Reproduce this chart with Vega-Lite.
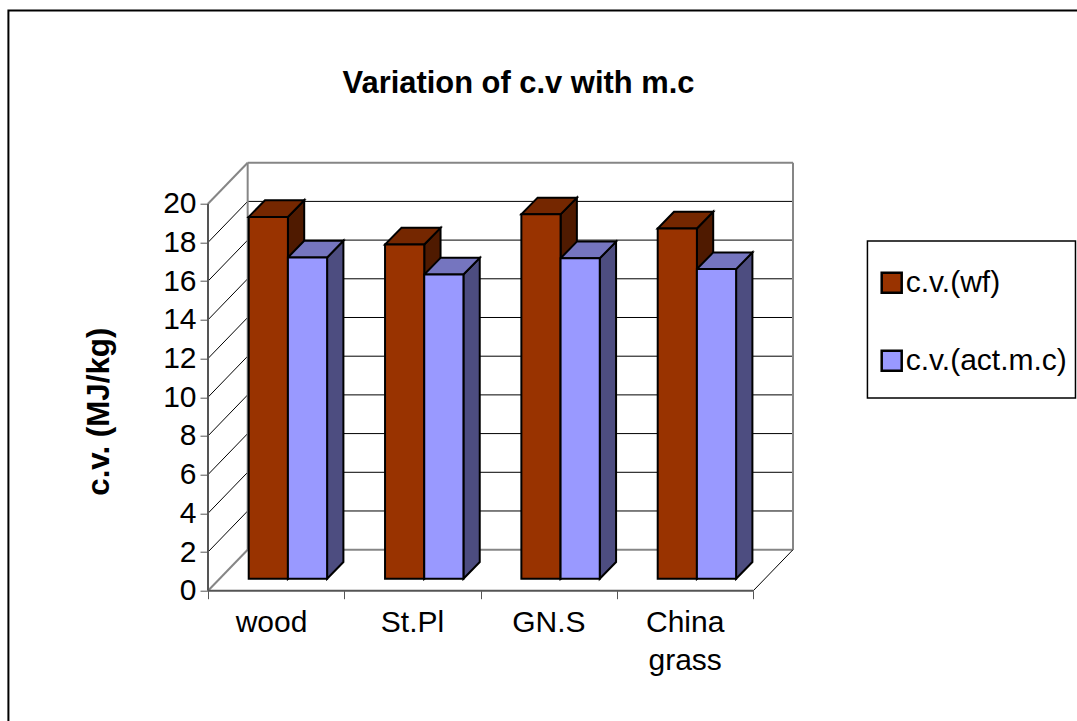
{
"$schema":"https://vega.github.io/schema/vega-lite/v6.json",
"width":585,"height":428,
"autosize":"none",
"padding":{"left":208,"top":162.7,"right":284,"bottom":130.3},
"background":"white",
"title":{"text":"Variation of c.v with m.c","font":"Liberation Sans","fontSize":30.9,"fontWeight":"bold","color":"black","anchor":"middle","frame":"group","dx":18,"offset":-90},
"config":{"view":{"stroke":null},"font":"Liberation Sans"},
"data":{"values":[{"note":"frame"}]},
"datasets":{
"bars":[
{"cat":"wood","series":"c.v.(wf)","value":18.7},
{"cat":"wood","series":"c.v.(act.m.c)","value":16.6},
{"cat":"St.Pl","series":"c.v.(wf)","value":17.27},
{"cat":"St.Pl","series":"c.v.(act.m.c)","value":15.72},
{"cat":"GN.S","series":"c.v.(wf)","value":18.83},
{"cat":"GN.S","series":"c.v.(act.m.c)","value":16.56},
{"cat":"China grass","series":"c.v.(wf)","value":18.1},
{"cat":"China grass","series":"c.v.(act.m.c)","value":16.0}],
"grid":[{"v":0},{"v":2},{"v":4},{"v":6},{"v":8},{"v":10},{"v":12},{"v":14},{"v":16},{"v":18},{"v":20}],
"cats":[{"cat":"wood"},{"cat":"St.Pl"},{"cat":"GN.S"},{"cat":"China grass"}]
},
"layer":[
{"mark":{"type":"rect","fillOpacity":0,"stroke":"black","strokeWidth":2,"clip":false},
 "encoding":{
  "x":{"datum":-1.464,"type":"quantitative","scale":{"domain":[0,4.291],"nice":false,"zero":false},"axis":{"values":[0,1,2,3,4],"labels":false,"title":null,"grid":false,"domain":false,"tickSize":8,"tickColor":"#555555","tickWidth":1}},
  "x2":{"datum":6.6},
  "y":{"datum":29.98,"type":"quantitative","scale":{"domain":[0,22.12],"nice":false,"zero":false},"axis":{"values":[0,2,4,6,8,10,12,14,16,18,20],"grid":false,"domain":false,"tickSize":8,"tickColor":"#555555","tickWidth":1,"labelFontSize":30,"labelFont":"Liberation Sans","labelColor":"black","labelPadding":4,"title":"c.v. (MJ/kg)","titleFontSize":31.3,"titleFont":"Liberation Sans","titleFontWeight":"bold","titleColor":"black","titleX":-93,"titleY":248.5,"titleAngle":-90}},
  "y2":{"datum":-7.5}}},
{"mark":{"type":"rect","fill":"white","stroke":"black","strokeWidth":1.5,"clip":false},
 "encoding":{
  "x":{"datum":4.837,"type":"quantitative"},"x2":{"datum":6.363},
  "y":{"datum":18.07,"type":"quantitative"},"y2":{"datum":9.96}}},
{"data":{"name":"grid"},
 "transform":[{"filter":"datum.v>0 && datum.v<20"},{"calculate":"datum.v+2.12","as":"v2"}],
 "mark":{"type":"rule","stroke":"black","strokeWidth":1},
 "encoding":{"x":{"datum":0.291,"type":"quantitative"},"x2":{"datum":4.291},"y":{"field":"v2","type":"quantitative"}}},
{"data":{"name":"grid"},
 "transform":[{"filter":"datum.v>0 && datum.v<20"},{"calculate":"datum.v+2.12","as":"v2"}],
 "mark":{"type":"rule","stroke":"black","strokeWidth":1},
 "encoding":{"x":{"datum":0,"type":"quantitative"},"x2":{"datum":0.291},"y":{"field":"v","type":"quantitative"},"y2":{"field":"v2"}}},
{"data":{"name":"grid"},
 "transform":[{"filter":"datum.v==0 || datum.v==20"},{"calculate":"datum.v+2.12","as":"v2"}],
 "mark":{"type":"rule","stroke":"#868686","strokeWidth":2},
 "encoding":{"x":{"datum":0.291,"type":"quantitative"},"x2":{"datum":4.291},"y":{"field":"v2","type":"quantitative"}}},
{"data":{"name":"grid"},
 "transform":[{"filter":"datum.v==0 || datum.v==20"},{"calculate":"datum.v+2.12","as":"v2"}],
 "mark":{"type":"rule","stroke":"#868686","strokeWidth":2},
 "encoding":{"x":{"datum":0,"type":"quantitative"},"x2":{"datum":0.291},"y":{"field":"v","type":"quantitative"},"y2":{"field":"v2"}}},
{"mark":{"type":"rule","stroke":"#868686","strokeWidth":2},
 "encoding":{"x":{"datum":0.291,"type":"quantitative"},"y":{"datum":2.12,"type":"quantitative"},"y2":{"datum":22.12}}},
{"mark":{"type":"rule","stroke":"#868686","strokeWidth":2},
 "encoding":{"x":{"datum":4.291,"type":"quantitative"},"y":{"datum":2.12,"type":"quantitative"},"y2":{"datum":22.12}}},
{"mark":{"type":"rule","stroke":"black","strokeWidth":1},
 "encoding":{"x":{"datum":4,"type":"quantitative"},"x2":{"datum":4.291},"y":{"datum":0,"type":"quantitative"},"y2":{"datum":2.12}}},
{"mark":{"type":"rule","stroke":"#555555","strokeWidth":2},
 "encoding":{"x":{"datum":0,"type":"quantitative"},"y":{"datum":0,"type":"quantitative"},"y2":{"datum":20}}},
{"mark":{"type":"rule","stroke":"#555555","strokeWidth":2},
 "encoding":{"x":{"datum":0,"type":"quantitative"},"x2":{"datum":4},"y":{"datum":0,"type":"quantitative"}}},
{"data":{"name":"bars"},
 "transform":[
  {"calculate":"indexof(['wood','St.Pl','GN.S','China grass'],datum.cat)+0.2986+indexof(['c.v.(wf)','c.v.(act.m.c)'],datum.series)*0.2875","as":"xl"},
  {"calculate":"datum.xl+0.2875","as":"xr"},
  {"calculate":"[0,1]","as":"t"},{"flatten":["t"]},
  {"calculate":"datum.xr+datum.t*0.1196","as":"px"},
  {"calculate":"0.62+datum.t*0.863","as":"lo"},
  {"calculate":"0.62+datum.value+datum.t*0.863","as":"hi"},
  {"calculate":"datum.cat+datum.series","as":"id"}],
 "mark":{"type":"area","stroke":"black","strokeWidth":2,"strokeJoin":"miter","line":false},
 "encoding":{"x":{"field":"px","type":"quantitative"},"y":{"field":"lo","type":"quantitative"},"y2":{"field":"hi"},"detail":{"field":"id"},
  "color":{"field":"series","type":"nominal","legend":null,"scale":{"domain":["c.v.(wf)","c.v.(act.m.c)"],"range":["#4F1A00","#4D4D80"]}}}},
{"data":{"name":"bars"},
 "transform":[
  {"calculate":"indexof(['wood','St.Pl','GN.S','China grass'],datum.cat)+0.2986+indexof(['c.v.(wf)','c.v.(act.m.c)'],datum.series)*0.2875","as":"xl"},
  {"calculate":"[0,1]","as":"t"},{"flatten":["t"]},
  {"calculate":"datum.xl+datum.t*0.1196","as":"p1"},
  {"calculate":"datum.xl+0.2875+datum.t*0.1196","as":"p2"},
  {"calculate":"0.62+datum.value+datum.t*0.863","as":"py"},
  {"calculate":"datum.cat+datum.series","as":"id"}],
 "mark":{"type":"area","orient":"horizontal","stroke":"black","strokeWidth":2,"strokeJoin":"miter","line":false},
 "encoding":{"y":{"field":"py","type":"quantitative"},"x":{"field":"p1","type":"quantitative"},"x2":{"field":"p2"},"detail":{"field":"id"},
  "color":{"field":"series","type":"nominal","legend":null,"scale":{"domain":["c.v.(wf)","c.v.(act.m.c)"],"range":["#752700","#7575BF"]}}}},
{"data":{"name":"bars"},
 "transform":[
  {"calculate":"indexof(['wood','St.Pl','GN.S','China grass'],datum.cat)+0.2986+indexof(['c.v.(wf)','c.v.(act.m.c)'],datum.series)*0.2875","as":"xl"},
  {"calculate":"datum.xl+0.2875","as":"xr"},
  {"calculate":"0.62","as":"lo"},
  {"calculate":"0.62+datum.value","as":"hi"}],
 "mark":{"type":"rect","stroke":"black","strokeWidth":2,"opacity":1},
 "encoding":{"x":{"field":"xl","type":"quantitative"},"x2":{"field":"xr"},"y":{"field":"lo","type":"quantitative"},"y2":{"field":"hi"},
  "color":{"field":"series","type":"nominal","scale":{"domain":["c.v.(wf)","c.v.(act.m.c)"],"range":["#993300","#9999FF"]},
   "legend":{"title":null,"orient":"none","legendX":668.7,"legendY":105,"symbolType":"square","symbolSize":400,"symbolStrokeWidth":2,"symbolOpacity":1,"labelFontSize":30,"labelFont":"Liberation Sans","labelColor":"black","labelOffset":-1,"rowPadding":48,"padding":0,"symbolStrokeColor":"black","labelLimit":400,
   "encode":{"symbols":{"update":{"stroke":{"value":"black"},"strokeWidth":{"value":2.5}}}}}}}},
{"data":{"name":"cats"},
 "transform":[
  {"calculate":"indexof(['wood','St.Pl','GN.S','China grass'],datum.cat)+0.5-(datum.cat=='wood'?0.034:0)","as":"lx"},
  {"calculate":"split(datum.cat,' ')","as":"lines"},
  {"calculate":"-2.134","as":"ly"}],
 "mark":{"type":"text","font":"Liberation Sans","fontSize":30,"color":"black","baseline":"alphabetic","align":"center","lineHeight":38,"clip":false},
 "encoding":{"x":{"field":"lx","type":"quantitative"},"y":{"field":"ly","type":"quantitative"},"text":{"field":"lines"}}}
],
"resolve":{"scale":{"color":"independent"}}
}
